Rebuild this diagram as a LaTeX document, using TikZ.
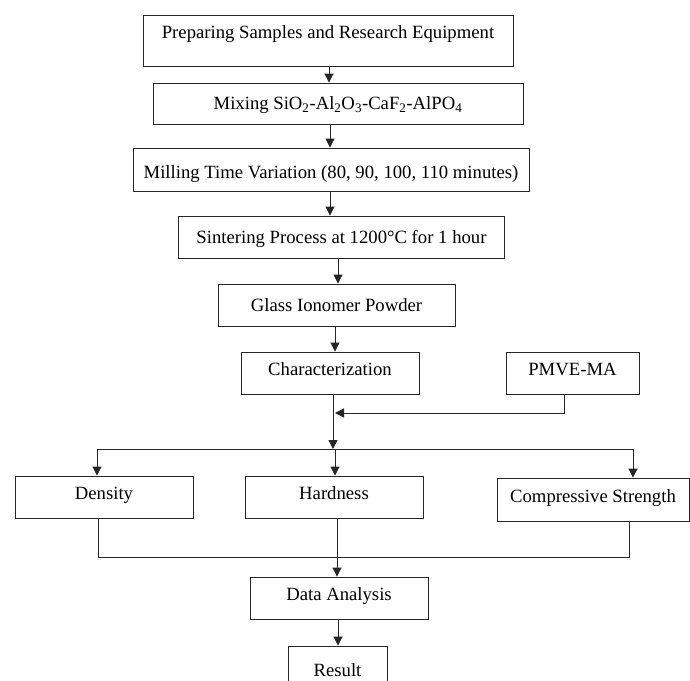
\documentclass[tikz,border=0pt]{standalone}
\usepackage{fontspec}
\setmainfont{Liberation Serif}
\usetikzlibrary{arrows.meta}
\tikzset{
  box/.style={draw=black!85, line width=0.9pt, inner sep=0pt, align=center,
    font=\fontsize{18.7}{22}\selectfont, text height=13pt, text depth=0.3pt},
  up/.style={text height=13pt, text depth=7.3pt},
  upmore/.style={text height=13pt, text depth=16.3pt},
  down/.style={text height=19pt, text depth=0.3pt},
  arr/.style={draw=black!85, line width=0.9pt, -{Triangle[width=9pt,length=9pt]}},
  ln/.style={draw=black!85, line width=0.9pt}
}
\begin{document}
\begin{tikzpicture}[x=1pt,y=-1pt]
\useasboundingbox (0,0) rectangle (690,680);
\clip (0,0) rectangle (690,680);
\fill[white] (0,0) rectangle (690,680);
\node[box, upmore, minimum width=370pt, minimum height=51pt] (b1) at (328,40.5) {Preparing Samples and Research Equipment};
\node[box, minimum width=370pt, minimum height=41pt] (b2) at (338,103.5) {Mixing SiO\textsubscript{2}-Al\textsubscript{2}O\textsubscript{3}-CaF\textsubscript{2}-AlPO\textsubscript{4}};
\node[box, down, minimum width=396pt, minimum height=43pt] (b3) at (331,169.5) {Milling Time Variation (80, 90, 100, 110 minutes)};
\node[box, minimum width=326pt, minimum height=42pt] (b4) at (341.5,237) {Sintering Process at 1200°C for 1 hour};
\node[box, minimum width=237pt, minimum height=42pt] (b5) at (336.5,305) {Glass Ionomer Powder};
\node[box, up, minimum width=178pt, minimum height=42pt] (b6) at (330,373) {Characterization};
\node[box, up, minimum width=133pt, minimum height=42pt] (pm) at (572.5,373) {PMVE-MA};
\node[box, up, minimum width=178pt, minimum height=42pt] (dens) at (104,497) {Density};
\node[box, up, minimum width=178pt, minimum height=42pt] (hard) at (334,497) {Hardness};
\node[box, up, minimum width=192pt, minimum height=43pt] (comp) at (593,499.5) {Compressive Strength};
\node[box, up, minimum width=178pt, minimum height=42pt] (da) at (339,598) {Data Analysis};
\node[box, down, minimum width=99pt, minimum height=42pt] (res) at (337.5,667) {Result};

\coordinate (j) at (333,449);
\coordinate (pj) at (335,413);
\coordinate (sL) at (97,449);
\coordinate (sM) at (335,449);
\coordinate (sR) at (633,449);
\coordinate (mL) at (98,557);
\coordinate (mR) at (629,557);

\draw[arr] ([xshift=1pt]b1.south) -- ([xshift=1pt]b1.south |- b2.north);
\draw[arr] ([xshift=-8pt]b2.south) -- ([xshift=-8pt]b2.south |- b3.north);
\draw[arr] ([xshift=-1pt]b3.south) -- ([xshift=-1pt]b3.south |- b4.north);
\draw[arr] ([xshift=-3.5pt]b4.south) -- ([xshift=-3.5pt]b4.south |- b5.north);
\draw[arr] ([xshift=-1.5pt]b5.south) -- ([xshift=-1.5pt]b5.south |- b6.north);
\draw[arr] (b6.south -| j) -- (j);
\draw[arr] (pm.south -| 564,0) |- (pj);
\draw[ln] (sL) -- (sR);
\draw[arr] (sL) -- (sL |- dens.north);
\draw[arr] (sM) -- (sM |- hard.north);
\draw[arr] (sR) -- (sR |- comp.north);
\draw[ln] (dens.south -| mL) -- (mL) -- (mR) -- (comp.south -| mR);
\draw[arr] ([xshift=3pt]hard.south) -- ([xshift=3pt]hard.south |- da.north);
\draw[arr] ([xshift=-1pt]da.south) -- ([xshift=-1pt]da.south |- res.north);
\end{tikzpicture}
\end{document}
